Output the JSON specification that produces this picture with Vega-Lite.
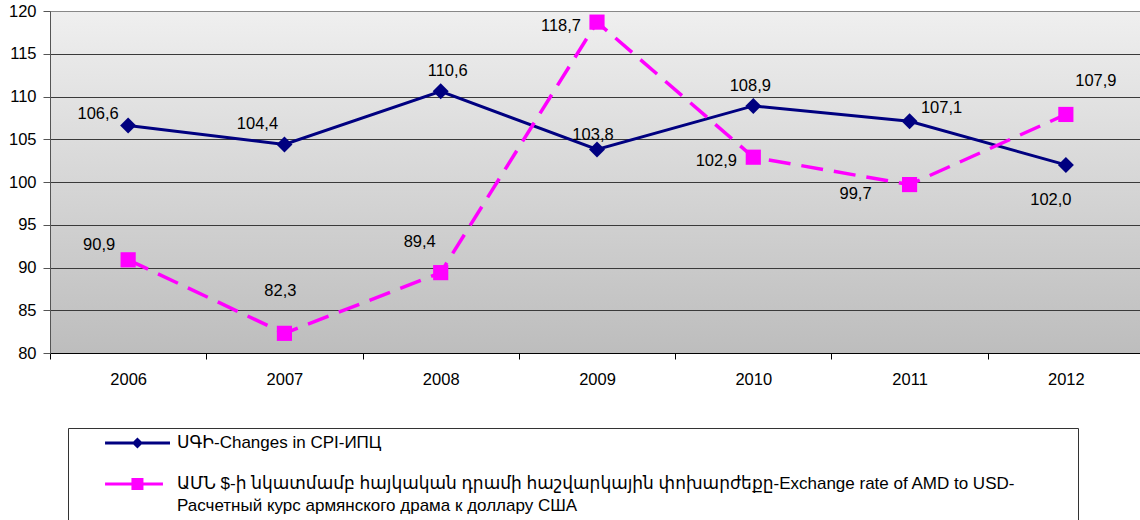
{
  "$schema": "https://vega.github.io/schema/vega-lite/v6.json",
  "width": 1094,
  "height": 342,
  "autosize": {"type": "none"},
  "padding": {"left": 50, "top": 11, "right": -4, "bottom": 167},
  "background": "#ffffff",
  "config": {
    "font": "Liberation Sans",
    "locale": {"number": {"decimal": ",", "thousands": " ", "grouping": [3], "currency": ["", ""]}},
    "style": {"guide-label": {"lineHeight": 22}}
  },
  "view": {
    "fill": {"gradient": "linear", "x1": 0, "y1": 0, "x2": 0, "y2": 1,
      "stops": [{"offset": 0, "color": "#efefef"}, {"offset": 1, "color": "#bdbdbd"}]},
    "stroke": "#888888"
  },
  "data": {"values": [
    {"year": "2006", "series": "CPI", "value": 106.6},
    {"year": "2007", "series": "CPI", "value": 104.4},
    {"year": "2008", "series": "CPI", "value": 110.6},
    {"year": "2009", "series": "CPI", "value": 103.8},
    {"year": "2010", "series": "CPI", "value": 108.9},
    {"year": "2011", "series": "CPI", "value": 107.1},
    {"year": "2012", "series": "CPI", "value": 102.0},
    {"year": "2006", "series": "USD", "value": 90.9},
    {"year": "2007", "series": "USD", "value": 82.3},
    {"year": "2008", "series": "USD", "value": 89.4},
    {"year": "2009", "series": "USD", "value": 118.7},
    {"year": "2010", "series": "USD", "value": 102.9},
    {"year": "2011", "series": "USD", "value": 99.7},
    {"year": "2012", "series": "USD", "value": 107.9}
  ]},
  "encoding": {
    "x": {"field": "year", "type": "ordinal",
      "scale": {"type": "band", "paddingInner": 0, "paddingOuter": 0},
      "axis": {"title": null, "labelAngle": 0, "tickBand": "extent", "tickSize": 6, "tickColor": "#000000",
        "domainColor": "#000000", "labelPadding": 12, "labelFontSize": 16.5, "labelColor": "#000000", "grid": false}},
    "y": {"field": "value", "type": "quantitative",
      "scale": {"domain": [80, 120], "nice": false, "zero": false},
      "axis": {"title": null, "values": [80, 85, 90, 95, 100, 105, 110, 115, 120], "tickSize": 7, "labelPadding": 7,
        "labelFontSize": 16.5, "labelColor": "#000000", "grid": true,
        "gridColor": {"condition": {"test": "datum.value == 120", "value": "#888888"}, "value": "#3a3a3a"},
        "domainColor": "#555555", "tickColor": "#555555"}}
  },
  "layer": [
    {"transform": [{"filter": "datum.series == 'CPI'"}],
     "mark": {"type": "line", "color": "#000080", "strokeWidth": 3}},
    {"transform": [{"filter": "datum.series == 'USD'"}],
     "mark": {"type": "line", "color": "#FF00FF", "strokeWidth": 3.5, "strokeDash": [22, 11]}},
    {"transform": [{"filter": "datum.series == 'CPI'"}],
     "mark": {"type": "point", "shape": "diamond", "filled": true, "color": "#000080", "size": 256, "opacity": 1}},
    {"transform": [{"filter": "datum.series == 'USD'"}],
     "mark": {"type": "point", "shape": "square", "filled": true, "color": "#FF00FF", "size": 230, "opacity": 1}},
    {"mark": {"type": "text", "fontSize": 16.5, "color": "#000000",
      "dx": {"expr": "{'CPI2006': -30, 'CPI2007': -27, 'CPI2008': 7, 'CPI2009': -4, 'CPI2010': -3, 'CPI2011': 32, 'CPI2012': -15, 'USD2006': -29, 'USD2007': -4, 'USD2008': -21, 'USD2009': -36, 'USD2010': -37, 'USD2011': -54, 'USD2012': 30}[datum.series + datum.year]"},
      "dy": {"expr": "{'CPI2006': -12, 'CPI2007': -20, 'CPI2008': -20, 'CPI2009': -15, 'CPI2010': -20, 'CPI2011': -13, 'CPI2012': 35, 'USD2006': -15, 'USD2007': -42, 'USD2008': -31, 'USD2009': 4, 'USD2010': 4, 'USD2011': 9, 'USD2012': -33}[datum.series + datum.year]"}},
     "encoding": {"text": {"field": "value", "type": "quantitative", "format": ".1f"}}},
    {"mark": {"type": "point", "filled": true, "opacity": 0},
     "encoding": {
       "color": {"field": "series", "type": "nominal",
         "scale": {"domain": ["CPI", "USD"], "range": ["#000080", "#FF00FF"]},
         "legend": {"orient": "none", "legendX": 18, "legendY": 417, "title": null, "padding": 0,
           "strokeColor": "#333333", "symbolSize": 900, "symbolOpacity": 1, "symbolStrokeWidth": 0,
           "labelFont": "Liberation Sans, DejaVu Sans",
           "labelFontSize": 17, "labelColor": "#000000", "labelLimit": 1200, "labelOffset": 79,
           "rowPadding": 18, "labelBaseline": "middle",
           "labelExpr": "datum.value == 'CPI' ? 'ՍԳԻ-Changes in CPI-ИПЦ' : ['ԱՄՆ $-ի նկատմամբ հայկական դրամի հաշվարկային փոխարժեքը-Exchange rate of AMD to USD-\u2800\u2800\u2800\u2800\u2800', 'Расчетный курс армянского драма к доллару США', '']"}},
       "shape": {"field": "series", "type": "nominal",
         "scale": {"domain": ["CPI", "USD"], "range": ["M1.47,-0.1H5.8V0.1H1.47Z M3.63,-0.37L4,0L3.63,0.37L3.26,0Z", "M1.47,-0.1H5.33V0.1H1.47Z M3.23,-0.4H4.03V0.4H3.23Z"]},
         "legend": {"orient": "none", "legendX": 18, "legendY": 417, "title": null, "padding": 0,
           "strokeColor": "#333333", "symbolSize": 900, "symbolOpacity": 1, "symbolStrokeWidth": 0,
           "labelFont": "Liberation Sans, DejaVu Sans",
           "labelFontSize": 17, "labelColor": "#000000", "labelLimit": 1200, "labelOffset": 79,
           "rowPadding": 18, "labelBaseline": "middle",
           "labelExpr": "datum.value == 'CPI' ? 'ՍԳԻ-Changes in CPI-ИПЦ' : ['ԱՄՆ $-ի նկատմամբ հայկական դրամի հաշվարկային փոխարժեքը-Exchange rate of AMD to USD-\u2800\u2800\u2800\u2800\u2800', 'Расчетный курс армянского драма к доллару США', '']"}}
     }}
  ]
}
